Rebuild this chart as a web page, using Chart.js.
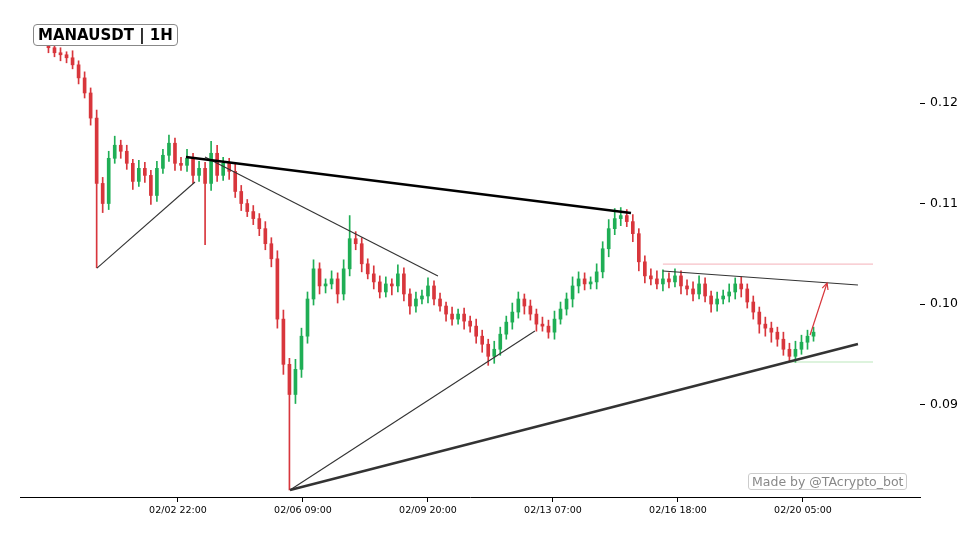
<!DOCTYPE html>
<html><head><meta charset="utf-8">
<script src="https://cdn.jsdelivr.net/npm/chart.js@4.4.0/dist/chart.umd.min.js"></script>
<style>
body{margin:0;background:#fff;font-family:"DejaVu Sans",sans-serif}
#wrap{position:relative;width:980px;height:539px}
#title{position:absolute;left:33px;top:24px;border:1px solid #888;border-radius:4px;padding:1px 4px;font-weight:bold;font-size:15px;background:#fff}
#credit{position:absolute;left:748px;top:473px;border:1px solid #ccc;border-radius:3px;padding:0 3px;font-size:12.5px;color:#888;background:#fff}
</style></head><body>
<div id="wrap"><canvas id="c" width="980" height="539"></canvas>
<div id="title">MANAUSDT | 1H</div><div id="credit">Made by @TAcrypto_bot</div></div>
<script>
// hours relative to 02/02 22:00, 4h candles
const startHour = -86, stepHours = 4;
const closes = [0.1255,0.1250,0.1248,0.1245,0.1238,0.1225,0.1210,0.1185,0.1120,0.1100,
0.1145,0.1158,0.1152,0.1140,0.1122,0.1135,0.1128,0.1108,0.1135,0.1148,
0.1160,0.1140,0.1138,0.1145,0.1128,0.1135,0.1120,0.1150,0.1128,0.1140,
0.1132,0.1112,0.1100,0.1092,0.1085,0.1075,0.1060,0.1045,0.0985,0.0940,
0.0910,0.0935,0.0968,0.1005,0.1035,0.1018,0.1020,0.1025,0.1010,0.1035,
0.1065,0.1060,0.1040,0.1030,0.1022,0.1012,0.1020,0.1018,0.1030,0.1010,
0.0998,0.1005,0.1008,0.1018,0.1005,0.0998,0.0990,0.0985,0.0990,0.0983,
0.0978,0.0968,0.0960,0.0948,0.0955,0.0970,0.0982,0.0992,0.1005,0.0998,
0.0990,0.0980,0.0978,0.0972,0.0985,0.0995,0.1005,0.1018,0.1025,0.1020,
0.1022,0.1032,0.1055,0.1075,0.1085,0.1088,0.1082,0.1070,0.1042,0.1028,
0.1025,0.1020,0.1025,0.1022,0.1028,0.1018,0.1015,0.1010,0.1020,0.1008,
0.1000,0.1005,0.1008,0.1012,0.1020,0.1015,0.1002,0.0992,0.0980,0.0976,
0.0972,0.0965,0.0955,0.0948,0.0955,0.0962,0.0968,0.0972];
const firstOpen = 0.1258;
// wick extents beyond body, in units of 0.0001
const upWick = [4,6,5,3,7,4,6,5,8,6,7,9,5,6,4,8,6,5,7,6,8,5,6,9,5,7,6,12,8,6,
5,7,6,4,6,5,7,6,8,9,6,10,8,7,9,6,5,8,6,9,23,7,6,5,8,6,7,5,9,6,
5,7,6,8,5,6,4,7,5,6,5,7,6,5,8,7,6,9,7,5,6,5,7,6,8,7,6,9,7,6,
5,8,7,9,10,8,6,7,5,6,7,8,9,6,7,5,6,7,8,6,5,7,6,8,6,7,5,6,5,7,6,5,7,6,8,7,6,5];
const downWick = [5,4,6,5,4,6,5,7,84,9,6,5,7,6,8,5,7,9,6,5,6,7,5,6,8,6,61,7,6,5,
8,6,7,5,6,7,6,8,9,10,95,9,8,7,6,8,7,5,9,6,7,6,8,5,7,6,5,9,6,7,
8,6,5,7,6,5,7,6,5,8,6,7,8,9,7,6,5,7,6,8,6,7,5,6,7,5,6,8,7,6,
5,7,6,8,6,7,5,8,9,7,6,5,7,6,5,8,6,7,5,6,8,7,5,6,7,8,6,7,9,8,10,7,6,5,6,5,7,5];
const xTickHours = [0,83,166,249,332,415];
const xTickLabels = ['02/02 22:00','02/06 09:00','02/09 20:00','02/13 07:00','02/16 18:00','02/20 05:00'];
const yTickValues = [0.09,0.10,0.11,0.12];
const yTickLabels = ['0.09','0.10','0.11','0.12'];
const thickTop = [[5.3,0.11463],[300.8,0.10906]];
const thickBottom = [[74.4,0.08149],[451.5,0.09602]];
const thinLines = [
 [[-53.8,0.10358],[11.3,0.11214]],
 [[17.9,0.11463],[172.6,0.10279]],
 [[74.4,0.08149],[237,0.09731]],
 [[322,0.10328],[451.5,0.10189]]];
const arrowLine = [[419.7,0.09692],[431,0.10209]];
const resistLine = [[322,0.10398],[461.5,0.10398]];
const supportLine = [[403,0.09423],[461.5,0.09423]];

const GREEN='#1fae55', RED='#d8363c';
const bodies=[], wicks=[], cols=[];
closes.forEach((c,i)=>{
  const o = i===0?firstOpen:closes[i-1];
  const x = startHour+i*stepHours;
  bodies.push({x, y:[o,c]});
  wicks.push({x, y:[Math.min(o,c)-downWick[i]/10000, Math.max(o,c)+upWick[i]/10000]});
  cols.push(c>=o?GREEN:RED);
});
const pts = a=>a.map(p=>({x:p[0],y:p[1]}));
const lineDs=(a,color,w)=>({type:'line',data:pts(a),borderColor:color,borderWidth:w,pointRadius:0,fill:false,order:0});

const arrowPlugin={id:'arrow',afterDatasetsDraw(ch){
  const xs=ch.scales.x, ys=ch.scales.y, ctx=ch.ctx;
  const x1=xs.getPixelForValue(arrowLine[0][0]), y1=ys.getPixelForValue(arrowLine[0][1]);
  const x2=xs.getPixelForValue(arrowLine[1][0]), y2=ys.getPixelForValue(arrowLine[1][1]);
  const a=Math.atan2(y2-y1,x2-x1);
  ctx.save();ctx.strokeStyle=RED;ctx.lineWidth=1.2;ctx.beginPath();
  ctx.moveTo(x2-7*Math.cos(a-0.45),y2-7*Math.sin(a-0.45));ctx.lineTo(x2,y2);
  ctx.lineTo(x2-7*Math.cos(a+0.45),y2-7*Math.sin(a+0.45));ctx.stroke();ctx.restore();
}};

new Chart(document.getElementById('c'),{
  type:'bar',
  data:{datasets:[
    {data:wicks,backgroundColor:cols,barThickness:1,grouped:false,order:2},
    {data:bodies,backgroundColor:cols,barThickness:3,grouped:false,order:1},
    lineDs(thickTop,'#000',2.5),
    lineDs(thickBottom,'#333',2.5),
    ...thinLines.map(l=>lineDs(l,'#333',1.1)),
    lineDs(arrowLine,RED,1.2),
    lineDs(resistLine,'rgba(240,150,160,0.6)',1.2),
    lineDs(supportLine,'rgba(120,210,120,0.5)',1.2)
  ]},
  options:{responsive:false,animation:false,
    layout:{padding:{left:20,top:40,right:0,bottom:0}},
    plugins:{legend:{display:false},tooltip:{enabled:false}},
    scales:{
      x:{type:'linear',min:-104.9,max:492.7,offset:false,bounds:'ticks',
        afterBuildTicks:s=>{s.ticks=xTickHours.map(v=>({value:v}));},
        afterFit:s=>{s.height=42;},
        grid:{drawOnChartArea:false,tickLength:5,color:'#000',offset:false},
        border:{display:true,color:'#000'},
        ticks:{autoSkip:false,maxRotation:0,color:'#000',font:{size:9.5,family:'DejaVu Sans'},
          callback:(v)=>xTickLabels[xTickHours.indexOf(v)]}},
      y:{position:'right',min:0.0808,max:0.12627,
        afterBuildTicks:s=>{s.ticks=yTickValues.map(v=>({value:v}));},
        afterFit:s=>{s.width=60;},
        grid:{drawOnChartArea:false,tickLength:5,color:'#000'},
        border:{display:false},
        ticks:{color:'#000',font:{size:12.5,family:'DejaVu Sans'},padding:5,
          callback:(v)=>yTickLabels[yTickValues.indexOf(v)]}}
    }},
  plugins:[arrowPlugin]
});
</script></body></html>
